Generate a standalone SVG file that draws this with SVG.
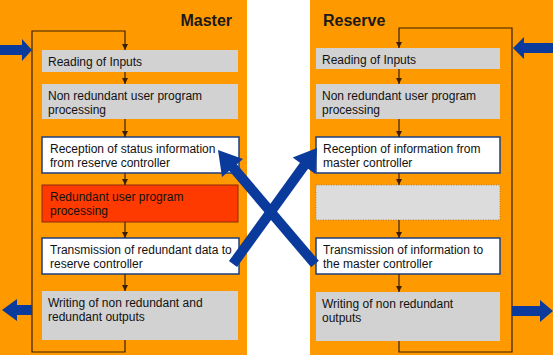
<svg xmlns="http://www.w3.org/2000/svg" width="553" height="357" viewBox="0 0 553 357">
<defs>
<style>
.panel{fill:#ff9900}
.grey{fill:#d2d2d2}
.white{fill:#ffffff;stroke:#1f3f7f;stroke-width:1.5}
.red{fill:#ff3a00;stroke:#8a2a10;stroke-width:1}
.empty{fill:#dcdcdc;stroke:#b08040;stroke-width:1;stroke-dasharray:1 1.5}
.t{font-family:"Liberation Sans",Arial,sans-serif;font-size:12px;fill:#111}
.title{font-family:"Liberation Sans",Arial,sans-serif;font-size:16px;font-weight:bold;fill:#1a1a1a}
.flow{fill:none;stroke:#3a2000;stroke-width:1.2}
.blue{fill:#0a3a9c}
.bl{stroke:#0a3a9c;stroke-width:10;fill:none}
</style>
<marker id="ah" viewBox="0 0 8 8" refX="8" refY="4" markerWidth="6" markerHeight="6" orient="auto" markerUnits="userSpaceOnUse">
<path d="M0,0 L8,4 L0,8 z" fill="#3a2000"/>
</marker>
</defs>
<rect x="0" y="0" width="553" height="357" fill="#ffffff"/>
<rect class="panel" x="0" y="0" width="247" height="355"/>
<rect class="panel" x="310" y="0" width="243" height="355"/>
<text class="title" x="232" y="26" text-anchor="end">Master</text>
<text class="title" x="323" y="26">Reserve</text>

<g id="m1"><rect class="grey" x="42" y="50" width="196" height="22"/><text class="t" x="48" y="66">Reading of Inputs</text></g>
<g id="m2"><rect class="grey" x="42" y="84" width="196" height="35"/><text class="t" x="48" y="100">Non redundant user program</text><text class="t" x="48" y="114">processing</text></g>
<g id="m3"><rect class="white" x="42" y="137" width="197" height="36"/><text class="t" x="50" y="153">Reception of status information</text><text class="t" x="50" y="167">from reserve controller</text></g>
<g id="m4"><rect class="red" x="42" y="185" width="196" height="37"/><text class="t" x="50" y="201" fill="#3a0800">Redundant user program</text><text class="t" x="50" y="215" fill="#3a0800">processing</text></g>
<g id="m5"><rect class="white" x="42" y="238" width="197" height="36"/><text class="t" x="50" y="254">Transmission of redundant data to</text><text class="t" x="50" y="268">reserve controller</text></g>
<g id="m6"><rect class="grey" x="42" y="291" width="196" height="49"/><text class="t" x="48" y="307">Writing of non redundant and</text><text class="t" x="48" y="321">redundant outputs</text></g>

<g id="r1"><rect class="grey" x="316" y="48" width="184" height="21"/><text class="t" x="322" y="64">Reading of Inputs</text></g>
<g id="r2"><rect class="grey" x="316" y="84" width="184" height="35"/><text class="t" x="322" y="100">Non redundant user program</text><text class="t" x="322" y="114">processing</text></g>
<g id="r3"><rect class="white" x="316" y="137" width="184" height="36"/><text class="t" x="323" y="153">Reception of information from</text><text class="t" x="323" y="167">master controller</text></g>
<g id="r4"><rect class="empty" x="316" y="185" width="184" height="35"/></g>
<g id="r5"><rect class="white" x="316" y="238" width="184" height="36"/><text class="t" x="323" y="254">Transmission of information to</text><text class="t" x="323" y="268">the master controller</text></g>
<g id="r6"><rect class="grey" x="316" y="292" width="184" height="49"/><text class="t" x="322" y="308">Writing of non redundant</text><text class="t" x="322" y="322">outputs</text></g>

<g id="connectors">
<path class="flow" d="M125,340 V352 H32 V31 H125 V50" marker-end="url(#ah)"/>
<path class="flow" d="M125,72 V84" marker-end="url(#ah)"/>
<path class="flow" d="M125,119 V137" marker-end="url(#ah)"/>
<path class="flow" d="M125,173 V185" marker-end="url(#ah)"/>
<path class="flow" d="M125,222 V238" marker-end="url(#ah)"/>
<path class="flow" d="M125,274 V291" marker-end="url(#ah)"/>

<path class="flow" d="M399,341 V352 H512 V28 H399 V48" marker-end="url(#ah)"/>
<path class="flow" d="M399,69 V84" marker-end="url(#ah)"/>
<path class="flow" d="M399,119 V137" marker-end="url(#ah)"/>
<path class="flow" d="M399,173 V185" marker-end="url(#ah)"/>
<path class="flow" d="M399,220 V238" marker-end="url(#ah)"/>
<path class="flow" d="M399,274 V292" marker-end="url(#ah)"/>

<path class="blue" d="M0,45 H22 V39 L32,50 L22,61 V55 H0 z"/>
<path class="blue" d="M32,305 H17 V299 L2,310 L17,321 V315 H32 z"/>
<path class="blue" d="M553,43 H524 V37 L513,48 L524,59 V53 H553 z"/>
<path class="blue" d="M512,306 H540 V300 L553,311 L540,322 V316 H512 z"/>

<line class="bl" x1="233" y1="264" x2="306" y2="163"/>
<polygon class="blue" points="317,148 315.3,174.1 292.7,157.6"/>
<line class="bl" x1="315" y1="264" x2="230" y2="164"/>
<polygon class="blue" points="218,150 243,159 222,177"/>
</g>
</svg>
